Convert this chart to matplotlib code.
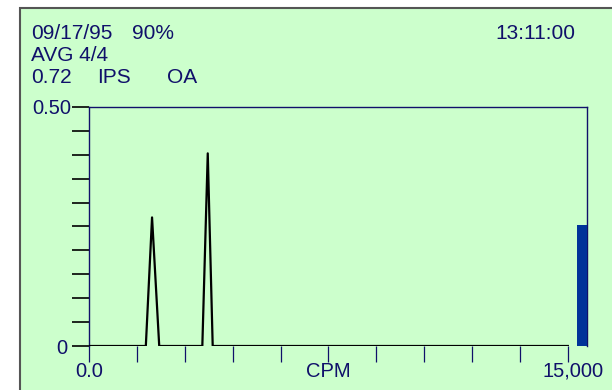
import numpy as np
import matplotlib
matplotlib.use("Agg")
import matplotlib.pyplot as plt
import matplotlib.transforms as mtransforms
from matplotlib.patches import Rectangle

plt.rcParams["font.family"] = ["Liberation Sans", "DejaVu Sans"]

# Spectrum data (CPM vs amplitude in IPS)
cpm = [0, 1780, 1975, 2200, 3550, 3720, 3875, 15000]
amp = [0, 0, 0.269, 0, 0, 0.403, 0, 0]
overall_level = 0.253

# header text pieces: (text, x pixel, line index)
header_items = [
    ("09/17/95", 31, 0), ("90%", 132, 0), ("13:11:00", 495, 0),
    ("AVG 4/4", 31, 1),
    ("0.72", 31, 2), ("IPS", 97, 2), ("OA", 167, 2),
]
y_ticks = [0, 0.05, 0.10, 0.15, 0.20, 0.25, 0.30, 0.35, 0.40, 0.45, 0.50]
y_ticklabels = ["0", "", "", "", "", "", "", "", "", "", "0.50"]
x_ticks = [0, 1500, 3000, 4500, 6000, 7500, 9000, 10500, 12000, 13500, 15000]
x_ticklabels = ["0.0", "", "", "", "", "CPM", "", "", "", "", "15,000"]

navy = "#10106a"
green = "#ccffcc"

fig = plt.figure(figsize=(6.12, 3.90), dpi=100, facecolor="white")

# green panel with border
panel = Rectangle((20 / 612, -0.05), 1.0, (390 - 8) / 390 + 0.05,
                  transform=fig.transFigure, facecolor=green,
                  edgecolor="#555555", linewidth=1.5, zorder=-5)
fig.patches.append(panel)

ax = fig.add_axes([89 / 612, 44 / 390, 498 / 612, 239 / 390], zorder=2)
ax.set_facecolor(green)

ax.plot(cpm, amp, color="black", linewidth=1.6, zorder=3)

xmax = 15600
ax.bar(15290, overall_level, width=xmax - 15290, align="edge",
       color="#003399", zorder=3)

ax.set_xlim(0, xmax)
ax.set_ylim(0, 0.5)

for side in ["left", "top", "right"]:
    ax.spines[side].set_color(navy)
    ax.spines[side].set_linewidth(1.0)
ax.spines["bottom"].set_visible(False)

ax.set_yticks(y_ticks)
ax.set_yticklabels(y_ticklabels)
ax.set_xticks(x_ticks)
ax.set_xticklabels(x_ticklabels)
ax.tick_params(axis="y", direction="out", length=12.5, width=1.2,
               color="black", pad=0, labelsize=14.5, labelcolor=navy)
ax.tick_params(axis="x", direction="out", length=11.5, width=0.9,
               color=navy, pad=0, labelsize=14.5, labelcolor=navy)

# nudge end labels like the original display
lbl = ax.get_xticklabels()[-1]
lbl.set_transform(lbl.get_transform() +
                  mtransforms.ScaledTranslation(5 / 100, 0, fig.dpi_scale_trans))
lbl = ax.get_yticklabels()[0]
lbl.set_transform(lbl.get_transform() +
                  mtransforms.ScaledTranslation(-4 / 100, 0, fig.dpi_scale_trans))

# header text
for text, xpix, row in header_items:
    fig.text(xpix / 612, 1 - (39 + row * 22) / 390, text, fontsize=15,
             color=navy, ha="left", va="baseline", zorder=5)

fig.savefig("out.png", dpi=100, facecolor="white")
